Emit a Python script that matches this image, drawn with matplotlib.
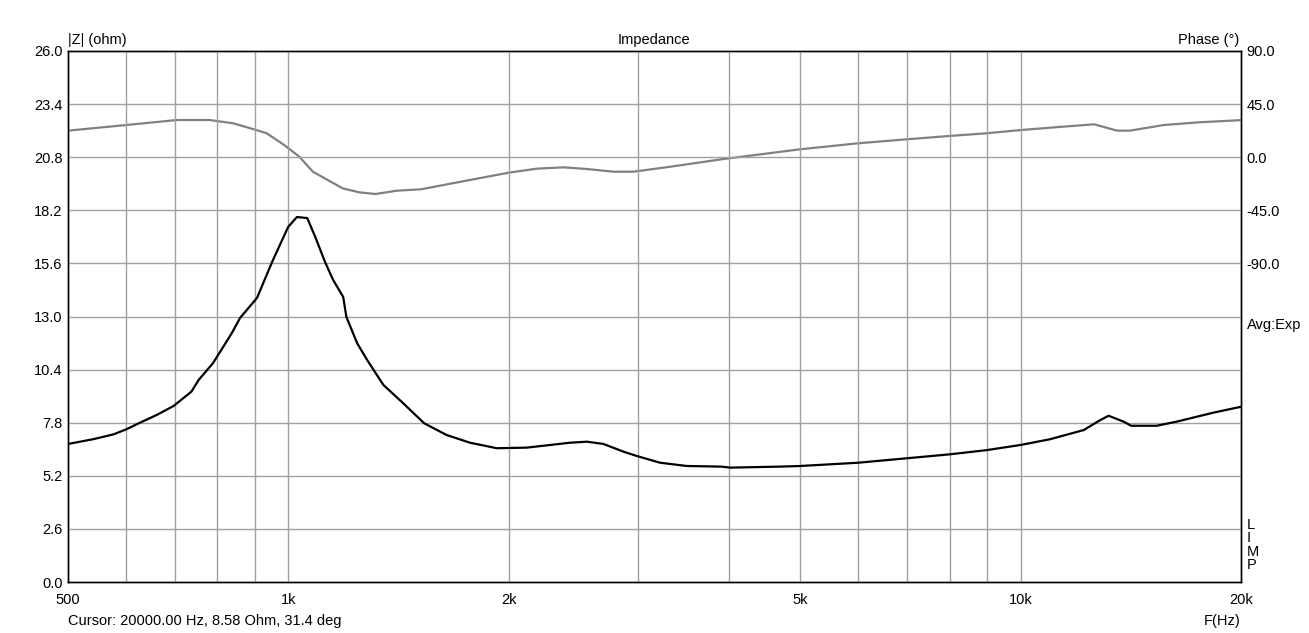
import matplotlib
matplotlib.use("Agg")
import matplotlib.pyplot as plt
from matplotlib.ticker import FixedLocator, NullLocator, NullFormatter

plt.rcParams['font.family'] = ['Liberation Sans', 'DejaVu Sans']

# Impedance magnitude (ohm)
freq_z = [500, 541, 577, 601, 627, 661, 697, 737, 754, 789, 837, 859, 906, 950,
          999, 1027, 1061, 1088, 1122, 1151, 1188, 1200, 1241, 1281, 1348, 1435,
          1483, 1533, 1644, 1770, 1926, 2117, 2279, 2425, 2556, 2693, 2869, 2991,
          3219, 3500, 3900, 4011, 4693, 5000, 6000, 7000, 8000, 9000, 10000,
          10970, 12195, 12850, 13190, 13830, 14160, 15340, 16330, 18330, 20000]
z_ohm = [6.76, 6.99, 7.23, 7.48, 7.80, 8.18, 8.62, 9.32, 9.89, 10.72, 12.19, 12.93,
         13.91, 15.67, 17.38, 17.87, 17.82, 16.90, 15.67, 14.79, 13.96, 12.98, 11.70,
         10.87, 9.65, 8.75, 8.26, 7.77, 7.20, 6.82, 6.55, 6.58, 6.71, 6.82, 6.87,
         6.76, 6.38, 6.17, 5.84, 5.68, 5.65, 5.60, 5.65, 5.68, 5.84, 6.06, 6.25,
         6.46, 6.71, 6.99, 7.44, 7.93, 8.14, 7.85, 7.65, 7.65, 7.85, 8.29, 8.58]

# Phase (degrees)
freq_ph = [500, 601, 704, 781, 841, 894, 934, 987, 1035, 1080, 1186, 1250, 1315,
           1405, 1517, 1770, 2000, 2185, 2376, 2556, 2781, 2959, 3322, 3900, 5000,
           6000, 7000, 8000, 9000, 10000, 10970, 12600, 13540, 14100, 15700, 17560,
           20000]
phase_deg = [22.5, 27.3, 31.5, 31.5, 28.7, 23.9, 20.3, 10.3, 0.4, -12.3, -26.4,
             -29.8, -31.2, -28.4, -27.2, -19.3, -13.1, -9.7, -8.6, -10.0, -12.3,
             -12.3, -8.1, -1.8, 6.7, 11.8, 15.2, 18.0, 20.3, 23.0, 25.0, 27.9, 22.5,
             22.5, 27.3, 29.6, 31.4]

z_ticks = [0.0, 2.6, 5.2, 7.8, 10.4, 13.0, 15.6, 18.2, 20.8, 23.4, 26.0]
ph_ticks = [90.0, 45.0, 0.0, -45.0, -90.0]
x_ticks = [500, 1000, 2000, 5000, 10000, 20000]
x_labels = ['500', '1k', '2k', '5k', '10k', '20k']
x_grid = [600, 700, 800, 900, 1000, 2000, 3000, 4000, 5000, 6000, 7000, 8000,
          9000, 10000]

W, H = 1309, 633
fig = plt.figure(figsize=(W / 100, H / 100), dpi=100)
L, R, T, B = 68, 1241, 51, 582
ax = fig.add_axes([L / W, (H - B) / H, (R - L) / W, (B - T) / H])
ax2 = ax.twinx()

FS = 10.5
grid_c = '#a0a0a0'

ax.set_xscale('log')
ax.set_xlim(500, 20000)
ax.set_ylim(0, 26)

for f in x_grid:
    ax.axvline(f, color=grid_c, lw=1.0, zorder=1)
for z in z_ticks[1:-1]:
    ax.axhline(z, color=grid_c, lw=1.0, zorder=1)

ax.xaxis.set_major_locator(FixedLocator(x_ticks))
ax.xaxis.set_minor_locator(NullLocator())
ax.xaxis.set_minor_formatter(NullFormatter())
ax.set_xticklabels(x_labels, fontsize=FS)
ax.set_yticks(z_ticks)
ax.set_yticklabels([f'{v:.1f}' for v in z_ticks], fontsize=FS)
ax.tick_params(axis='y', length=0, pad=4)
ax.tick_params(axis='x', length=0, pad=8)

ax2.set_ylim(-360, 90)
ax2.set_yticks(ph_ticks)
ax2.set_yticklabels([f'{v:.1f}' for v in ph_ticks], fontsize=FS)
ax2.tick_params(axis='y', length=0, pad=4)

for a in (ax, ax2):
    for s in a.spines.values():
        s.set_color('black')
        s.set_linewidth(1.0)

ax2.plot(freq_ph, phase_deg, color='#808080', lw=1.6, zorder=3)
ax.plot(freq_z, z_ohm, color='black', lw=1.6, zorder=4)
ax.set_zorder(ax2.get_zorder() + 1)
ax.patch.set_visible(False)

def px(x, y):
    return x / W, 1 - y / H

fig.text(*px(68, 40), '|Z| (ohm)', fontsize=FS, ha='left', va='center')
fig.text(*px(654, 40), 'Impedance', fontsize=FS, ha='center', va='center')
fig.text(*px(1239, 40), 'Phase (°)', fontsize=FS, ha='right', va='center')
fig.text(*px(1247, 325), 'Avg:Exp', fontsize=FS, ha='left', va='center')
fig.text(*px(1247, 545), 'L\nI\nM\nP', fontsize=FS, ha='left', va='center',
         linespacing=0.95)
fig.text(*px(68, 621), 'Cursor: 20000.00 Hz, 8.58 Ohm, 31.4 deg', fontsize=FS,
         ha='left', va='center')
fig.text(*px(1222, 621), 'F(Hz)', fontsize=FS, ha='center', va='center')

fig.savefig('out.png', dpi=100, facecolor='white')
